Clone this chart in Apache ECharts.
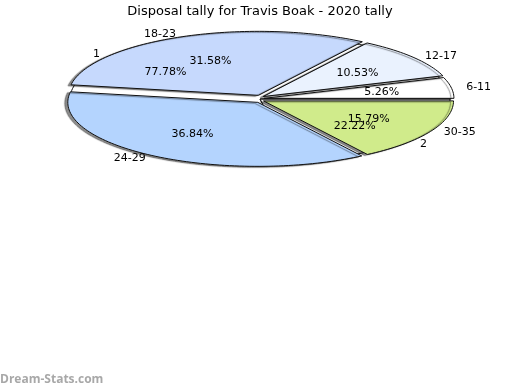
<!DOCTYPE html>
<html><head><meta charset="utf-8">
<script src="https://cdn.jsdelivr.net/npm/echarts@6/dist/echarts.min.js"></script>
<style>html,body{margin:0;padding:0;background:#fff}#c{width:520px;height:390px}</style>
</head><body><div id="c"></div>
<script>
const chartTitle = 'Disposal tally for Travis Boak - 2020 tally';
const watermark = 'Dream-Stats.com';
const ageCategories = ['6-11', '12-17', '18-23', '24-29', '30-35'];
const ageValues = [1, 2, 6, 7, 3];
const ageColors = ['#ffffff', '#eaf2fe', '#c6d9fd', '#b4d4fe', '#d0eb8b'];
const countCategories = ['1', '2'];
const countValues = [7, 2];
const countColors = ['#ffffff', '#ffffff'];

const CX = 260, CY = 99, RX = 190, RY = 64, EXPLODE = 4;

function angles(values, i) {
  const total = values.reduce((a, b) => a + b, 0);
  let s = 0;
  for (let k = 0; k < i; k++) s += values[k];
  const a0 = s / total * Math.PI * 2;
  const a1 = (s + values[i]) / total * Math.PI * 2;
  return [a0, a1, values[i] / total * 100];
}
function sectorPoints(a0, a1, off) {
  const mid = (a0 + a1) / 2;
  const ox = off * Math.cos(mid), oy = -off * Math.sin(mid);
  const pts = [[CX + ox, CY + oy]];
  const n = Math.max(6, Math.ceil((a1 - a0) / (Math.PI / 120)));
  for (let i = 0; i <= n; i++) {
    const a = a0 + (a1 - a0) * i / n;
    pts.push([CX + ox + RX * Math.cos(a), CY + oy - RY * Math.sin(a)]);
  }
  return pts;
}
function sliceSeries(values, colors, off, z, shadow) {
  return {
    type: 'custom', coordinateSystem: 'none', z: z, silent: true,
    data: values.map((v, i) => [i, v]),
    renderItem: function (params) {
      const [a0, a1] = angles(values, params.dataIndex);
      return {
        type: 'polygon',
        shape: { points: sectorPoints(a0, a1, off) },
        style: Object.assign({ fill: colors[params.dataIndex], stroke: '#111', lineWidth: 1 },
          shadow ? { shadowColor: 'rgba(0,0,0,0.45)', shadowOffsetX: -3, shadowOffsetY: 1, shadowBlur: 1 } : {})
      };
    }
  };
}
function labelSeries(values, cats, off, z) {
  return {
    type: 'custom', coordinateSystem: 'none', z: z, silent: true,
    data: values.map((v, i) => [i, v]),
    renderItem: function (params) {
      const i = params.dataIndex;
      const [a0, a1, pct] = angles(values, i);
      const mid = (a0 + a1) / 2;
      const c = Math.cos(mid), s = Math.sin(mid);
      const font = '11px "DejaVu Sans"';
      return {
        type: 'group',
        children: [
          { type: 'text', x: CX + 0.65 * RX * c, y: CY - 0.65 * RY * s,
            style: { text: pct.toFixed(2) + '%', font: font, fill: '#000', align: 'center', verticalAlign: 'middle' } },
          { type: 'text', x: CX + 1.1 * RX * c, y: CY - 1.1 * RY * s,
            style: { text: cats[i], font: font, fill: '#000', align: c >= 0 ? 'left' : 'right', verticalAlign: 'middle' } }
        ]
      };
    }
  };
}

const chart = echarts.init(document.getElementById('c'), null, { renderer: 'canvas' });
chart.setOption({
  animation: false,
  backgroundColor: '#ffffff',
  title: { text: chartTitle, left: 'center', top: 0,
    textStyle: { fontFamily: 'DejaVu Sans', fontSize: 13, fontWeight: 'normal', color: '#000' } },
  graphic: [{ type: 'text', left: 0, top: 374,
    style: { text: watermark, font: 'bold 12px "Open Sans"', fill: '#a8a8a8' } }],
  series: [
    sliceSeries(countValues, countColors, 0, 1, false),
    sliceSeries(ageValues, ageColors, EXPLODE, 2, true),
    labelSeries(countValues, countCategories, 0, 3),
    labelSeries(ageValues, ageCategories, EXPLODE, 3)
  ]
});
</script></body></html>
